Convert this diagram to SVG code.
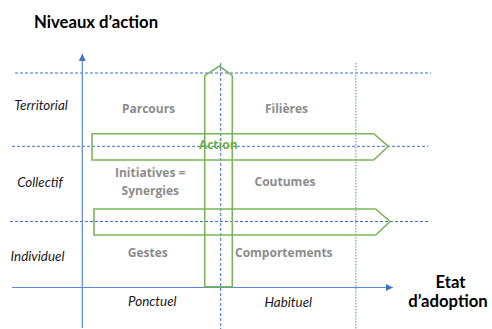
<svg xmlns="http://www.w3.org/2000/svg" width="492" height="329" viewBox="0 0 492 329">
<style>
.title{font-family:Lato,"Open Sans",sans-serif;font-weight:bold;font-size:16.7px;fill:#000}
.lvl{font-family:Lato,"Open Sans",sans-serif;font-style:italic;font-size:13.4px;fill:#1a1a1a}
.cell{font-family:"Open Sans",Lato,sans-serif;font-weight:bold;font-size:12px;fill:#8c8c8c;text-anchor:middle}
.act{font-family:"Open Sans",Lato,sans-serif;font-weight:bold;font-size:12px;fill:#70ad47;text-anchor:middle}
.axis{stroke:#5b86d0;stroke-width:1.2;fill:none}
.dash{stroke:#3f6fd0;stroke-width:1;stroke-dasharray:3 2;fill:none}
.dot{stroke:#8faadc;stroke-width:1.5;stroke-dasharray:1.5 1.5;fill:none}
.green{stroke:#7ab55a;stroke-width:1.6;fill:none}
</style>
<defs>
<marker id="ah" markerWidth="8" markerHeight="8" refX="7" refY="4" orient="auto" markerUnits="userSpaceOnUse">
<path d="M0,0.5 L7,4 L0,7.5 Z" fill="#4472c4"/>
</marker>
</defs>
<rect width="492" height="329" fill="#fff"/>
<g id="connectors">
<line class="dash" x1="15" y1="73" x2="431" y2="73"/>
<line class="dash" x1="12" y1="146.3" x2="428" y2="146.3"/>
<line class="dash" x1="10" y1="221.5" x2="428" y2="221.5"/>
<line class="dash" x1="220.7" y1="63" x2="220.7" y2="329"/>
<line class="dot" x1="355.7" y1="63" x2="355.7" y2="329"/>
<line id="y-axis" class="axis" x1="82.3" y1="328" x2="82.3" y2="54" marker-end="url(#ah)"/>
<line id="x-axis" class="axis" x1="12" y1="287.5" x2="393" y2="287.5" marker-end="url(#ah)"/>
</g>
<g id="arrow-vertical">
<path class="green" d="M204.7,286.7 L204.7,75.7 L219.5,66 L232.3,75.7 L232.3,286.7 Z"/>
</g>
<g id="arrow-collectif">
<path class="green" d="M92,133.7 L373.7,133.7 L388.3,146.3 L373.7,160 L92,160 Z"/>
</g>
<g id="arrow-individuel">
<path class="green" d="M94,209 L375.7,209 L390,221.5 L375.7,235 L94,235 Z"/>
</g>
<g id="title-y"><text class="title" x="34" y="27.7">Niveaux d’action</text></g>
<g id="title-x">
<text class="title" x="450.5" y="288.3" text-anchor="middle">Etat</text>
<text class="title" x="448" y="306.5" text-anchor="middle">d’adoption</text>
</g>
<g id="lvl-territorial"><text class="lvl" x="41" y="110" text-anchor="middle">Territorial</text></g>
<g id="lvl-collectif"><text class="lvl" x="40" y="186.5" text-anchor="middle">Collectif</text></g>
<g id="lvl-individuel"><text class="lvl" x="37.5" y="260.5" text-anchor="middle">Individuel</text></g>
<g id="lbl-ponctuel"><text class="lvl" x="152.3" y="305.5" text-anchor="middle">Ponctuel</text></g>
<g id="lbl-habituel"><text class="lvl" x="288.3" y="306.5" text-anchor="middle">Habituel</text></g>
<g id="cell-parcours"><text class="cell" x="148.5" y="112.7">Parcours</text></g>
<g id="cell-filieres"><text class="cell" x="286.5" y="112.7">Filières</text></g>
<g id="cell-initiatives">
<text class="cell" x="150.2" y="177.3">Initiatives =</text>
<text class="cell" x="150.3" y="195">Synergies</text>
</g>
<g id="cell-coutumes"><text class="cell" x="285" y="185.7">Coutumes</text></g>
<g id="cell-gestes"><text class="cell" x="147.8" y="256.7">Gestes</text></g>
<g id="cell-comportements"><text class="cell" x="283.8" y="256.7">Comportements</text></g>
<g id="action"><text class="act" x="218.2" y="149.3">Action</text></g>
</svg>
